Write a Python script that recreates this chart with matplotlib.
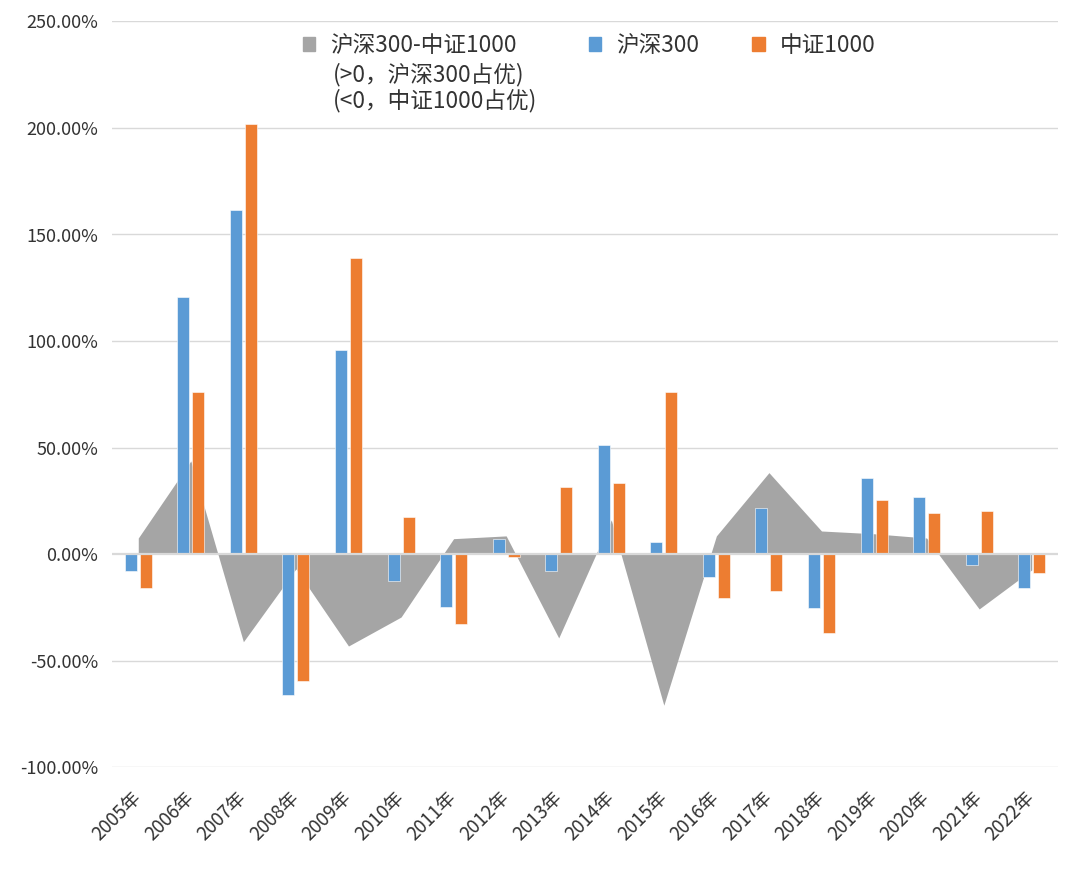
import matplotlib
matplotlib.use("Agg")
import matplotlib.pyplot as plt
import numpy as np
from matplotlib.patches import Patch
from matplotlib.ticker import FuncFormatter

plt.rcParams['font.family'] = ['Noto Sans CJK SC', 'DejaVu Sans']

years = ["2005年", "2006年", "2007年", "2008年", "2009年", "2010年", "2011年", "2012年", "2013年",
         "2014年", "2015年", "2016年", "2017年", "2018年", "2019年", "2020年", "2021年", "2022年"]
hs300 = [-7.8, 120.5, 161.5, -66.2, 95.9, -12.5, -25.0, 7.0, -7.8,
         51.1, 5.5, -11.0, 21.5, -25.3, 35.8, 26.6, -5.2, -16.1]
zz1000 = [-16.1, 76.0, 201.9, -59.5, 139.0, 17.2, -33.0, -1.5, 31.6,
          33.5, 76.0, -20.5, -17.3, -37.3, 25.4, 19.1, 20.2, -9.1]
spread = [7.5, 43.7, -41.2, -7.0, -43.2, -29.6, 7.2, 8.5, -39.4,
          16.0, -71.0, 8.5, 38.2, 10.8, 9.5, 7.5, -25.8, -7.5]

label_spread = "沪深300-中证1000"
label_spread_note = "(>0，沪深300占优)\n(<0，中证1000占优)"
label_hs = "沪深300"
label_zz = "中证1000"

c_gray = "#A5A5A5"
c_blue = "#5B9BD5"
c_orange = "#ED7D31"
c_grid = "#D9D9D9"
c_text = "#333333"

fig = plt.figure(figsize=(10.8, 8.8), dpi=100)
ax = fig.add_axes([112/1080, 1-767/880, (1058-112)/1080, (767-21.5)/880])

x = np.arange(len(years))
ax.fill_between(x, spread, 0, color=c_gray, linewidth=0, zorder=1)
w = 0.228
off = 0.143
ax.bar(x - off, hs300, width=w, color=c_blue, edgecolor="white", linewidth=0.4, zorder=2)
ax.bar(x + off, zz1000, width=w, color=c_orange, edgecolor="white", linewidth=0.4, zorder=2)

ax.set_xlim(-0.5, len(years) - 0.5)
ax.set_ylim(-100, 250)
yt = np.arange(-100, 251, 50)
ax.set_yticks(yt)
ax.yaxis.set_major_formatter(FuncFormatter(lambda v, p: f"{v:.2f}%"))
for v in yt:
    if v != 0:
        ax.axhline(v, color=c_grid, linewidth=1.0, zorder=0)
ax.axhline(0, color=c_grid, linewidth=1.6, zorder=3)

ax.set_xticks(x)
ax.set_xticklabels(years, rotation=45, ha="right", va="center", rotation_mode="anchor")
ax.tick_params(axis="x", length=0, pad=20, labelsize=13.5, colors=c_text)
ax.tick_params(axis="y", length=0, pad=10, labelsize=13, colors=c_text)
for s in ax.spines.values():
    s.set_visible(False)

leg_kw = dict(frameon=False, loc="upper left", bbox_transform=fig.transFigure,
              fontsize=16.3, borderpad=0, handlelength=0.55, handleheight=0.55,
              handletextpad=0.65, borderaxespad=0)
leg1 = ax.legend([Patch(color=c_gray)], [label_spread],
                 bbox_to_anchor=(303/1080, 1-34/880), **leg_kw)
for t in leg1.get_texts():
    t.set_color(c_text)
ax.add_artist(leg1)
leg2 = ax.legend([Patch(color=c_blue), Patch(color=c_orange)], [label_hs, label_zz],
                 ncol=2, columnspacing=2.35,
                 bbox_to_anchor=(589/1080, 1-34/880), **leg_kw)
for t in leg2.get_texts():
    t.set_color(c_text)
fig.text(333/1080, 1-63/880, label_spread_note, ha="left", va="top",
         fontsize=16.3, color=c_text, linespacing=1.13)

fig.savefig("out.png", dpi=100, facecolor="white")
